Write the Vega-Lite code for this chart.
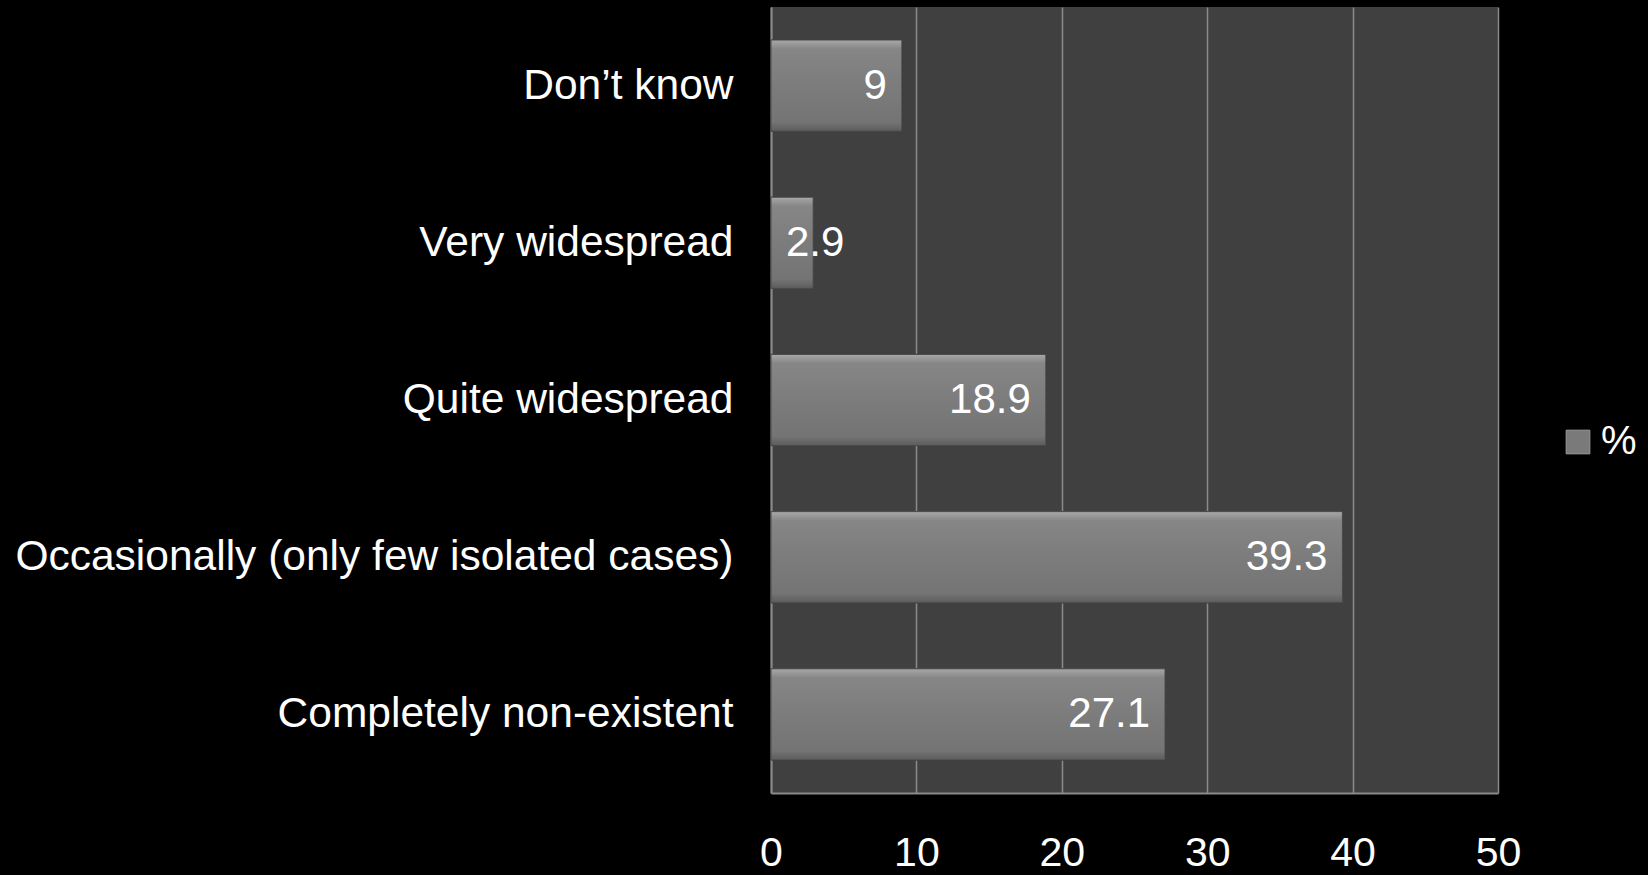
{
  "$schema": "https://vega.github.io/schema/vega-lite/v6.json",
  "autosize": {"type": "none"},
  "width": 727,
  "height": 786,
  "padding": {"left": 771, "top": 7, "right": 150, "bottom": 82},
  "background": "#000000",
  "config": {
    "view": {"fill": "#404040", "stroke": null},
    "font": "Liberation Sans"
  },
  "data": {
    "values": [
      {"category": "Don’t know", "value": 9, "series": "%"},
      {"category": "Very widespread", "value": 2.9, "series": "%"},
      {"category": "Quite widespread", "value": 18.9, "series": "%"},
      {"category": "Occasionally (only few isolated cases)", "value": 39.3, "series": "%"},
      {"category": "Completely non-existent", "value": 27.1, "series": "%"}
    ]
  },
  "encoding": {
    "y": {
      "field": "category",
      "type": "nominal",
      "sort": null,
      "scale": {"paddingInner": 0.42, "paddingOuter": 0.21},
      "axis": {
        "title": null,
        "labelFontSize": 42.5,
        "labelColor": "#ffffff",
        "labelPadding": 38,
        "ticks": false,
        "domain": true,
        "domainColor": "#8a8a8a",
        "domainWidth": 2,
        "labelLimit": 1000
      }
    },
    "x": {
      "field": "value",
      "type": "quantitative",
      "scale": {"domain": [0, 50]},
      "axis": {
        "title": null,
        "values": [0, 10, 20, 30, 40, 50],
        "labelFontSize": 41,
        "labelColor": "#ffffff",
        "labelPadding": 40,
        "ticks": false,
        "domain": true,
        "domainColor": "#8a8a8a",
        "domainWidth": 2,
        "grid": true,
        "gridColor": "#8a8a8a",
        "gridWidth": 1.5,
        "labelFlush": false
      }
    }
  },
  "layer": [
    {
      "mark": {"type": "bar", "stroke": "#333333", "strokeWidth": 1},
      "encoding": {
        "fill": {
          "field": "series",
          "type": "nominal",
          "scale": {"range": ["#7a7a7a"]},
          "legend": {
            "title": null,
            "orient": "none",
            "legendX": 787,
            "legendY": 415,
            "padding": 0,
            "symbolType": "square",
            "symbolSize": 560,
            "symbolStrokeColor": "#9a9a9a",
            "symbolStrokeWidth": 1,
            "labelFontSize": 40,
            "labelColor": "#ffffff",
            "labelOffset": 3
          }
        }
      }
    },
    {
      "mark": {
        "type": "bar",
        "stroke": "#4a4a4a",
        "strokeWidth": 1,
        "color": {
          "gradient": "linear",
          "x1": 0, "y1": 0, "x2": 0, "y2": 1,
          "stops": [
            {"offset": 0, "color": "#a8a8a8"},
            {"offset": 0.1, "color": "#868686"},
            {"offset": 0.5, "color": "#7c7c7c"},
            {"offset": 0.9, "color": "#747474"},
            {"offset": 1, "color": "#5c5c5c"}
          ]
        }
      },
      "encoding": {}
    },
    {
      "transform": [{"filter": "datum.value >= 5"}],
      "mark": {"type": "text", "align": "right", "baseline": "middle", "dx": -15, "fontSize": 42, "color": "#ffffff"},
      "encoding": {"text": {"field": "value", "type": "quantitative"}}
    },
    {
      "transform": [{"filter": "datum.value < 5"}],
      "mark": {"type": "text", "align": "left", "baseline": "middle", "dx": 15, "fontSize": 42, "color": "#ffffff"},
      "encoding": {
        "x": {"datum": 0},
        "text": {"field": "value", "type": "quantitative"}
      }
    }
  ]
}
